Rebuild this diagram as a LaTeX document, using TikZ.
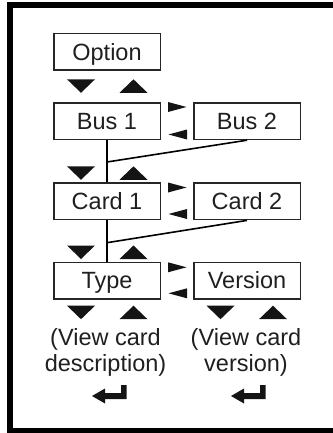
\documentclass[tikz,border=0pt]{standalone}
\usepackage{fontspec}
\setmainfont{Liberation Sans}
\begin{document}
\begin{tikzpicture}[x=1pt,y=-1pt,
  keybox/.style={draw=black!85, line width=1.5pt, minimum width=106.5pt,
    minimum height=36.5pt, inner sep=0pt, text height=16.8pt, text depth=0pt,
    font=\fontsize{23.5}{26}\selectfont, text=black!88},
  note/.style={align=center, inner sep=0pt, text=black!88,
    font=\fontsize{23.5}{26.3}\selectfont},
  link/.style={line width=1.6pt, black},
  downkey/.pic={\fill[black!92] (-14,0) -- (14,0) -- (0,13.5) -- cycle;},
  upkey/.pic={\fill[black!92] (-14,13.5) -- (14,13.5) -- (0,0) -- cycle;},
  rightkey/.pic={\fill[black!92] (0,-5) -- (0,5) -- (18.5,0) -- cycle;},
  leftkey/.pic={\fill[black!92] (18.5,-5) -- (18.5,5) -- (0,0) -- cycle;},
  enterkey/.pic={\fill[black!92] (0,11) -- (13,3.5) -- (13,8) -- (29,8) -- (29,0)
    -- (34.5,0) -- (34.5,14) -- (13,14) -- (13,18.5) -- cycle;}
]
\useasboundingbox (0,0) rectangle (332,433);

% outer frame (open to the right)
\draw[line width=6pt, line join=miter] (360,5) -- (10,5) -- (10,431) -- (360,431);

% menu boxes
\node[keybox] (opt)   at (107,52)    {Option};
\node[keybox] (bus1)  at (107,121.2) {Bus 1};
\node[keybox] (bus2)  at (247,121.2) {Bus 2};
\node[keybox] (card1) at (107,201.4) {Card 1};
\node[keybox] (card2) at (247,201.4) {Card 2};
\node[keybox] (type)  at (107,280.5) {Type};
\node[keybox] (ver)   at (247,280.5) {Version};

% joins on the left-hand spine
\coordinate (j1) at (107,162);
\coordinate (j2) at (107,242.7);
\draw[link] (bus1.south) -- (card1.north);
\draw[link] (bus2.south) -- (j1);
\draw[link] (card1.south) -- (type.north);
\draw[link] (card2.south) -- (j2);

% up/down keys
\foreach \yy in {79.3,166.3,245.5,305.7} {
  \pic at (81,\yy) {downkey};
  \pic at (133.5,\yy) {upkey};
}
\pic at (220.5,305.7) {downkey};
\pic at (273,305.7) {upkey};

% left/right keys
\foreach \ya/\yb in {107/134.5, 187.5/214, 267.3/293.3} {
  \pic at (168,\ya) {rightkey};
  \pic at (168.5,\yb) {leftkey};
}

% notes under the last row
\node[note] (desc)  at (105.5,352.7) {(View card\\description)};
\node[note] (vinfo) at (246,352.7)   {(View card\\version)};

% enter keys
\pic at (92,385) {enterkey};
\pic at (231,385) {enterkey};
\end{tikzpicture}
\end{document}
